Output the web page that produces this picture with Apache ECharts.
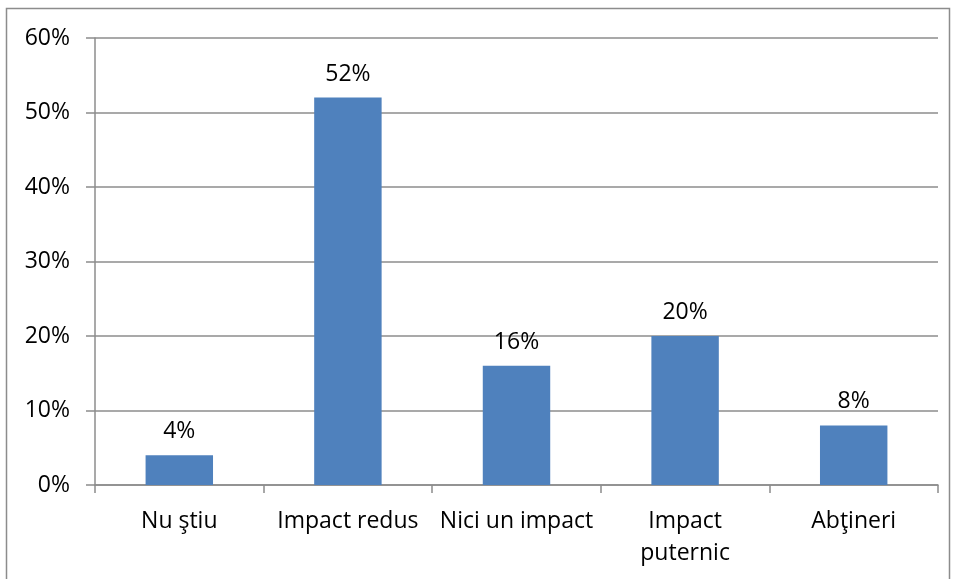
<!DOCTYPE html>
<html>
<head>
<meta charset="utf-8">
<script src="https://cdn.jsdelivr.net/npm/echarts@6/dist/echarts.min.js"></script>
<style>
  html, body { margin: 0; padding: 0; background: #fff; }
  #chart { width: 954px; height: 579px; }
</style>
</head>
<body>
<div id="chart"></div>
<script>
const categories = ['Nu ştiu', 'Impact redus', 'Nici un impact', 'Impact puternic', 'Abţineri']
const values = [4, 52, 16, 20, 8]
const yTicks = [0, 10, 20, 30, 40, 50, 60]

const font = "'Open Sans', 'DejaVu Sans', sans-serif"
const gray = '#8c8c8c'

const chart = echarts.init(document.getElementById('chart'))
const option = {
  animation: false,
  textStyle: { fontFamily: font },
  graphic: [{
    type: 'rect',
    shape: { x: 6.5, y: 8.5, width: 943, height: 580 },
    style: { fill: 'none', stroke: gray, lineWidth: 1.5 },
    silent: true
  }],
  grid: { left: 95, right: 16, top: 38, bottom: 94 },
  xAxis: {
    type: 'category',
    data: categories,
    axisLine: { lineStyle: { color: gray, width: 1.5 } },
    axisTick: { show: true, interval: 0, length: 8, lineStyle: { color: gray, width: 1.5 } },
    axisLabel: {
      interval: 0, hideOverlap: false,
      color: '#000', fontSize: 23, margin: 20, lineHeight: 32,
      formatter: v => v === 'Impact puternic' ? 'Impact\nputernic' : v
    }
  },
  yAxis: {
    type: 'value',
    min: yTicks[0],
    max: yTicks[yTicks.length - 1],
    interval: 10,
    axisLine: { show: true, lineStyle: { color: gray, width: 1.5 } },
    axisTick: { show: true, length: 9, lineStyle: { color: gray, width: 1.5 } },
    splitLine: { lineStyle: { color: gray, width: 1.5 } },
    axisLabel: { color: '#000', fontSize: 23, margin: 25, formatter: '{value}%' }
  },
  series: [{
    type: 'bar',
    data: values,
    barWidth: '40%',
    itemStyle: { color: '#4F81BD' },
    label: {
      show: true, position: 'top', distance: 12,
      color: '#000', fontSize: 23, formatter: '{c}%'
    }
  }]
}
chart.setOption(option)
</script>
</body>
</html>
